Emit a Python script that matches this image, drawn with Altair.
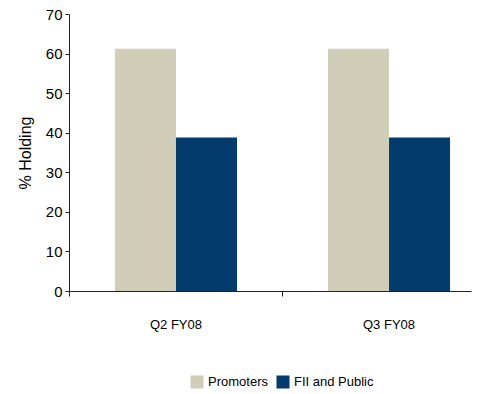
import altair as alt
import pandas as pd

quarters = ["Q2 FY08", "Q3 FY08"]
series = ["Promoters", "FII and Public"]
promoters = [61.2, 61.2]
fii_public = [38.8, 38.8]
colors = ["#D0CDB9", "#033C6C"]
y_ticks = [0, 10, 20, 30, 40, 50, 60, 70]

rows = []
for q, p, f in zip(quarters, promoters, fii_public):
    rows.append({"Quarter": q, "Holder": series[0], "Holding": p})
    rows.append({"Quarter": q, "Holder": series[1], "Holding": f})
df = pd.DataFrame(rows)

FONT = "Liberation Sans, Arial, sans-serif"

xscale = alt.Scale(domain=quarters, paddingInner=0.427, paddingOuter=0.157, align=0.687)
yscale = alt.Scale(domain=[0, 70])
yaxis = alt.Axis(values=y_ticks, grid=False, title="% Holding", labelOverlap=False,
                 titleFont=FONT, titleFontSize=16, titleFontWeight="normal",
                 titleColor="#000", titlePadding=12,
                 labelFont=FONT, labelFontSize=15, labelColor="#000", labelPadding=3,
                 tickSize=4, tickColor="#222", domainColor="#222")

bars = alt.Chart(df).mark_bar().encode(
    x=alt.X("Quarter:N", scale=xscale, sort=quarters,
            axis=alt.Axis(title=None, orient="bottom", ticks=False, labelAngle=0,
                          labelPadding=27, labelFontSize=13, labelFont=FONT,
                          labelColor="#000", domainColor="#222", domainWidth=1)),
    xOffset=alt.XOffset("Holder:N", sort=series,
                        scale=alt.Scale(domain=series, paddingInner=0, paddingOuter=0)),
    y=alt.Y("Holding:Q", scale=yscale, axis=yaxis),
    color=alt.Color("Holder:N", sort=series,
                    scale=alt.Scale(domain=series, range=colors),
                    legend=alt.Legend(title=None, orient="none", direction="horizontal",
                                      legendX=121, legendY=361,
                                      symbolType="square", symbolSize=170,
                                      symbolStrokeWidth=0, symbolOpacity=1,
                                      labelFont=FONT, labelFontSize=13, labelColor="#000",
                                      labelOffset=4, columnPadding=8)),
)

tick_layer = alt.Chart(df).mark_bar(opacity=0).encode(
    x=alt.X("Quarter:N", scale=xscale, sort=quarters,
            axis=alt.Axis(title=None, orient="bottom", labels=False, domain=False,
                          ticks=True, tickSize=5, tickColor="#222", bandPosition=-0.373)),
    y=alt.Y("Holding:Q", scale=yscale, axis=yaxis),
)

chart = alt.layer(bars, tick_layer).resolve_axis(x="independent").properties(
    width=402, height=277,
    autosize=alt.AutoSizeParams(type="none"),
    padding={"left": 69, "top": 14, "right": 6, "bottom": 103},
).configure_view(stroke="transparent")

chart.save("out.html", embed_options={"renderer": "svg", "actions": False})
